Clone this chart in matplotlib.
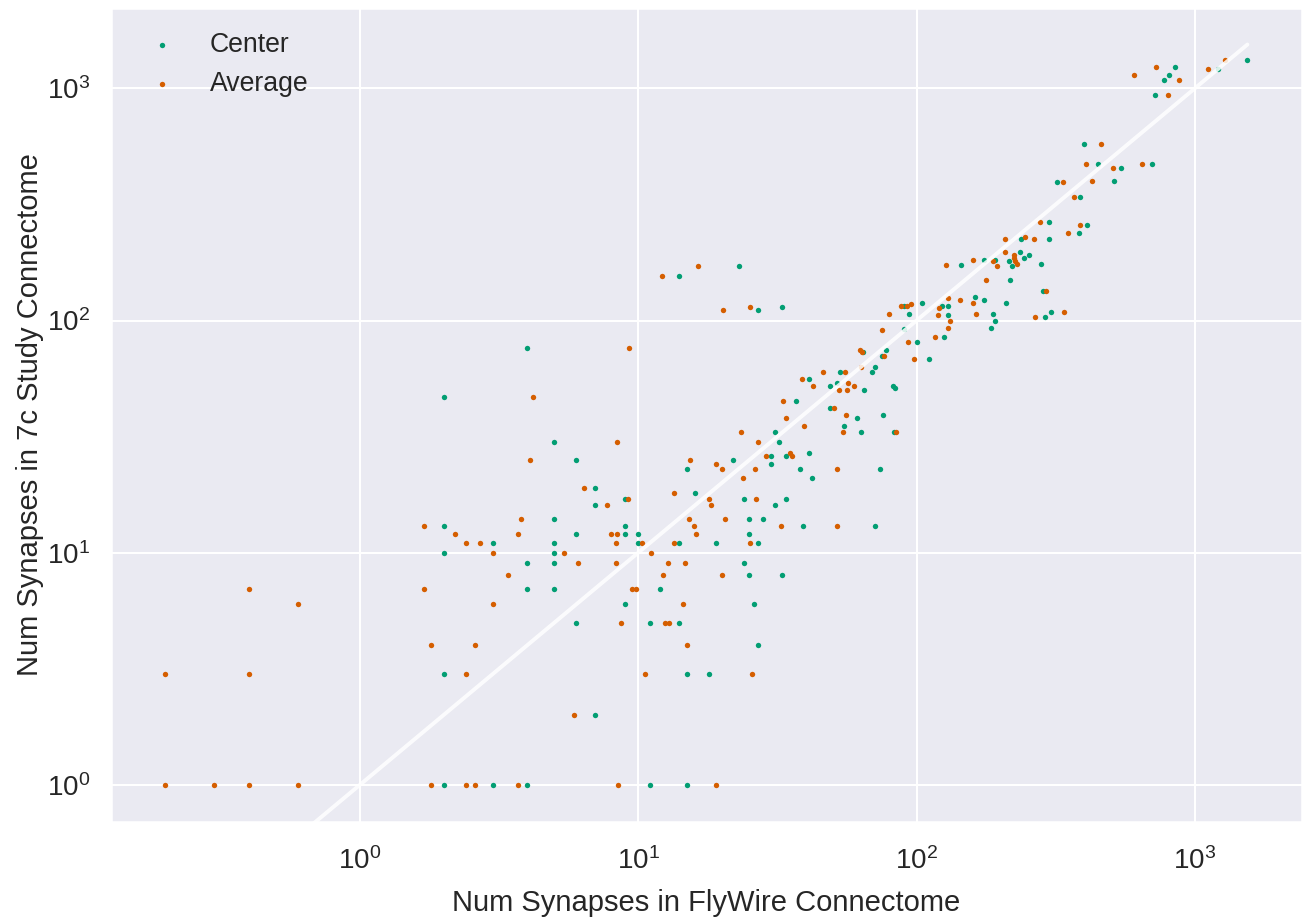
import numpy as np
import matplotlib
matplotlib.use("Agg")
import matplotlib.pyplot as plt
import seaborn as sns

# synapse counts per connection: FlyWire (x) vs 7c study (y)
center_flywire = [4, 2, 5, 6, 7, 7, 9, 2, 5, 6, 9, 10, 9, 3, 5, 10, 2, 5, 4, 5, 4, 5, 9, 6, 2, 7, 2, 3, 4,
                  24, 25, 33, 12, 26, 11, 14, 27, 15, 18, 11, 15,
                  100, 64, 75, 71, 69, 53, 41, 52, 49, 65, 82, 84, 37, 49, 61, 76, 55, 31, 63, 83, 32, 22,
                  30, 34, 41, 30, 15, 38, 74, 42, 16, 24, 34, 31, 25, 28, 39, 71, 25, 14, 19, 27, 78,
                  14, 23, 27, 33, 90, 94, 90,
                  300, 408, 382, 237, 300, 236, 244, 253, 215, 220, 192, 175, 144, 280, 216, 284, 162, 175,
                  210, 123, 130, 130, 188, 191, 185, 290, 304, 126, 111, 105,
                  1543, 1215, 847, 806, 777, 718, 401, 448, 542, 703, 320, 513, 387]
center_study = [76, 47, 30, 25, 19, 16, 17, 13, 14, 12, 12, 12, 13, 11, 11, 11, 10, 10, 9, 9, 7, 7, 6, 5, 3, 2, 1, 1, 1,
                9, 8, 8, 7, 6, 5, 5, 4, 3, 3, 1, 1,
                81, 73, 70, 63, 60, 60, 56, 54, 52, 50, 52, 51, 45, 42, 38, 39, 35, 33, 33, 33, 30, 25,
                26, 26, 27, 24, 23, 23, 23, 21, 18, 17, 17, 16, 14, 14, 13, 13, 12, 11, 11, 11, 75,
                156, 171, 111, 114, 116, 107, 92,
                265, 257, 239, 224, 224, 198, 185, 191, 180, 171, 183, 183, 174, 175, 150, 134, 126, 123,
                119, 115, 116, 106, 107, 100, 93, 104, 109, 85, 68, 119,
                1325, 1215, 1236, 1137, 1089, 938, 577, 474, 453, 474, 395, 398, 340]

avg_flywire = [0.2, 0.2, 0.3, 0.4, 0.4, 0.4, 0.6, 0.6,
               9.3, 4.2, 8.4, 4.1, 6.4, 7.7, 9.2, 1.7, 3.8, 2.2, 3.7, 8.0, 8.4, 2.4, 2.7, 8.3, 10.3, 3.0,
               5.4, 11.1, 6.1, 8.3, 3.4,
               1.7, 9.5, 9.8, 3.0, 8.7, 1.8, 2.6, 2.4, 10.6, 5.9, 1.8, 2.4, 2.6, 3.7, 8.5,
               12.8, 14.7, 12.3, 20, 14.5, 12.5, 12.9, 15, 25.7, 19,
               75.2, 93.5, 98, 62.7, 63.6, 76.3, 46.3, 55.4, 38.9, 56.9, 42.6, 52.7, 56.3, 59.7, 33.1,
               50.6, 34.1, 56, 39.3, 23.5, 54.3, 84.2, 27, 15.4, 28.9, 35.2, 35.7, 19.1, 20, 26.3, 52,
               23.8, 13.4, 18, 18.2, 26.5, 15.2, 20.5, 15.9, 32.6, 52, 16.2, 13.4, 25.3, 63,
               12.2, 16.4, 20.1, 25.3, 79.5, 87.7, 92.5, 95.6,
               277, 388, 350, 207, 245.6, 265, 208, 223, 223.6, 226, 230, 188, 193.8, 160, 128, 177, 292,
               143, 159, 130, 120, 119, 163, 132, 130, 267, 338, 116.5,
               1283, 1118, 727.5, 606, 880, 799, 460, 406, 507, 645, 335.5, 427.5, 369]
avg_study = [3, 1, 1, 7, 3, 1, 6, 1,
             76, 47, 30, 25, 19, 16, 17, 13, 14, 12, 12, 12, 12, 11, 11, 11, 11, 10,
             10, 10, 9, 9, 8,
             7, 7, 7, 6, 5, 4, 4, 3, 3, 2, 1, 1, 1, 1, 1,
             9, 9, 8, 8, 6, 5, 5, 4, 3, 1,
             91, 81, 68, 75, 73, 70, 60, 60, 56, 54, 52, 50, 50, 52, 45,
             42, 38, 39, 35, 33, 33, 33, 30, 25, 26, 27, 26, 24, 23, 23, 23,
             21, 18, 17, 16, 17, 14, 14, 13, 13, 13, 12, 11, 11, 63,
             156, 171, 111, 114, 107, 115, 116, 118,
             265, 257, 239, 224, 229, 224, 198, 191, 185, 180, 175, 181, 171, 182, 174, 150, 134,
             123, 119, 125, 113, 106, 107, 100, 93, 104, 109, 85,
             1329, 1211, 1236, 1137, 1089, 938, 577, 474, 453, 474, 395, 398, 340]

sns.set_theme(style="darkgrid", context="talk")
plt.rcParams['font.family'] = ['Liberation Sans', 'DejaVu Sans']

colors = sns.color_palette("colorblind")
green = colors[2]
orange = colors[3]

fig = plt.figure(figsize=(13.03, 9.19), dpi=100)
ax = fig.add_axes([111 / 1303, 1 - 822 / 919, 1190.5 / 1303, 814.5 / 919])

ax.scatter(center_flywire, center_study, s=15, color=green, linewidths=0, label="Center")
ax.scatter(avg_flywire, avg_study, s=15, color=orange, linewidths=0, label="Average")

# identity line
top = max(max(center_flywire), max(avg_flywire))
ax.plot([0, top], [0, top], color="white", alpha=0.85, lw=2.8)

ax.set_xscale("log")
ax.set_yscale("log")
ax.tick_params(axis="both", labelsize=20)
ax.tick_params(axis="x", pad=9)
ax.tick_params(axis="y", pad=6)

ax.set_xlabel("Num Synapses in FlyWire Connectome", fontsize=21, labelpad=10)
ax.set_ylabel("Num Synapses in 7c Study Connectome", fontsize=21, labelpad=2)

ax.legend(loc="upper left", frameon=False, fontsize=19.2, markerscale=1.0)

fig.savefig("out.png", dpi=100)
